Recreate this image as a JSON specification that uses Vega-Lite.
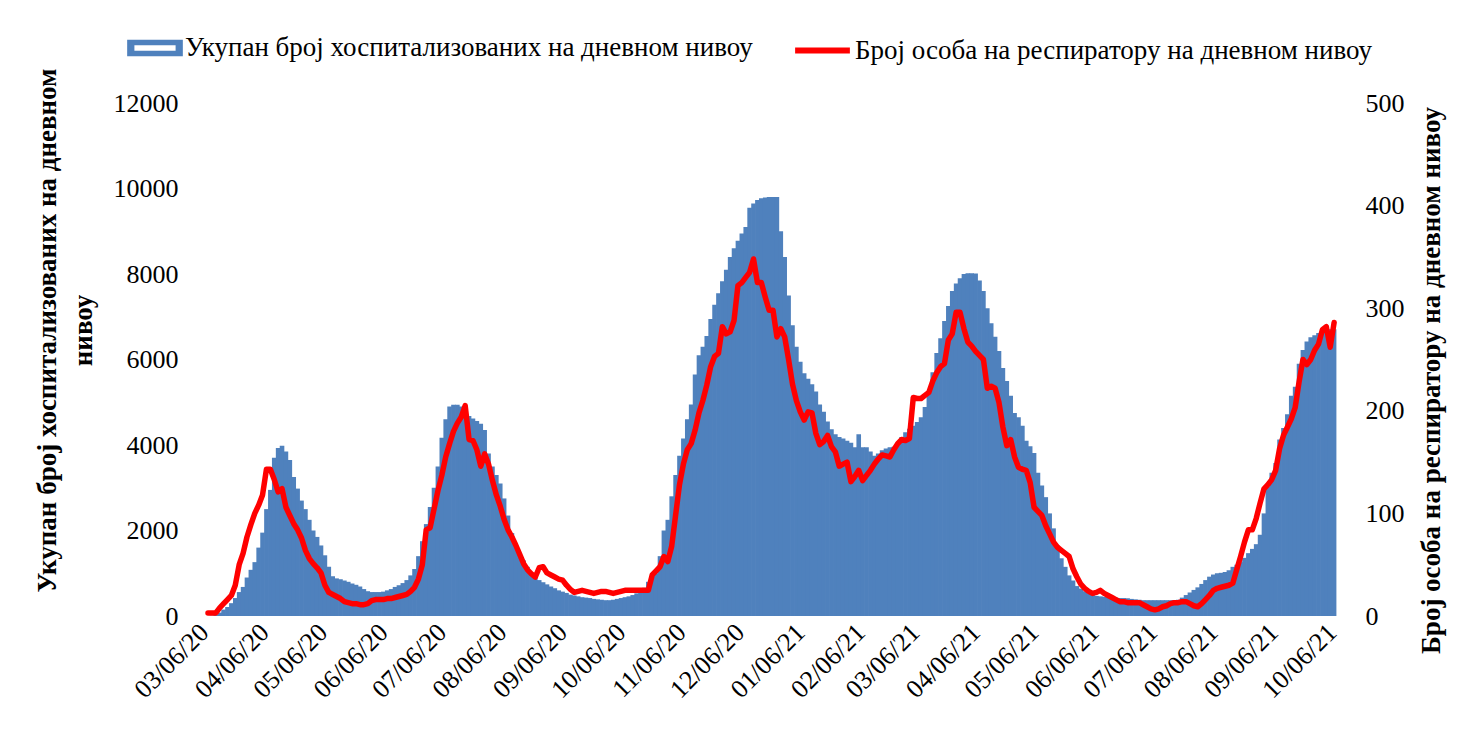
{
  "$schema": "https://vega.github.io/schema/vega-lite/v6.json",
  "autosize": "none",
  "width": 1140,
  "height": 513,
  "padding": {"left": 203, "top": 103, "right": 125, "bottom": 113},
  "background": "white",
  "config": {"view": {"stroke": null}, "font": "Liberation Serif"},
  "data": {"values": [
{"date":"2020-03-06","hosp":0,"resp":3},{"date":"2020-03-08","hosp":10,"resp":3},{"date":"2020-03-10","hosp":25,"resp":3},{"date":"2020-03-12","hosp":80,"resp":8},{"date":"2020-03-14","hosp":150,"resp":12},{"date":"2020-03-16","hosp":210,"resp":16},{"date":"2020-03-18","hosp":300,"resp":20},{"date":"2020-03-20","hosp":420,"resp":30},{"date":"2020-03-22","hosp":560,"resp":50},{"date":"2020-03-24","hosp":680,"resp":61},{"date":"2020-03-26","hosp":900,"resp":77},{"date":"2020-03-28","hosp":1080,"resp":89},{"date":"2020-03-30","hosp":1260,"resp":100},
{"date":"2020-04-01","hosp":1600,"resp":108},{"date":"2020-04-03","hosp":1950,"resp":118},{"date":"2020-04-05","hosp":2500,"resp":143},{"date":"2020-04-07","hosp":2950,"resp":143},{"date":"2020-04-09","hosp":3700,"resp":133},{"date":"2020-04-11","hosp":3930,"resp":121},{"date":"2020-04-13","hosp":3980,"resp":124},{"date":"2020-04-15","hosp":3850,"resp":106},{"date":"2020-04-17","hosp":3650,"resp":98},{"date":"2020-04-19","hosp":3250,"resp":90},{"date":"2020-04-21","hosp":2980,"resp":84},{"date":"2020-04-23","hosp":2700,"resp":76},{"date":"2020-04-25","hosp":2500,"resp":64},{"date":"2020-04-27","hosp":2250,"resp":56},{"date":"2020-04-29","hosp":2000,"resp":51},
{"date":"2020-05-01","hosp":1850,"resp":47},{"date":"2020-05-03","hosp":1650,"resp":42},{"date":"2020-05-05","hosp":1420,"resp":30},{"date":"2020-05-07","hosp":1150,"resp":23},{"date":"2020-05-09","hosp":930,"resp":21},{"date":"2020-05-11","hosp":880,"resp":19},{"date":"2020-05-13","hosp":860,"resp":17},{"date":"2020-05-15","hosp":830,"resp":14},{"date":"2020-05-17","hosp":800,"resp":13},{"date":"2020-05-19","hosp":760,"resp":12},{"date":"2020-05-21","hosp":730,"resp":12},{"date":"2020-05-23","hosp":690,"resp":11},{"date":"2020-05-25","hosp":630,"resp":11},{"date":"2020-05-27","hosp":580,"resp":12},{"date":"2020-05-29","hosp":560,"resp":15},{"date":"2020-05-31","hosp":560,"resp":16},
{"date":"2020-06-02","hosp":560,"resp":16},{"date":"2020-06-04","hosp":570,"resp":16},{"date":"2020-06-06","hosp":600,"resp":17},{"date":"2020-06-08","hosp":630,"resp":17},{"date":"2020-06-10","hosp":680,"resp":18},{"date":"2020-06-12","hosp":720,"resp":19},{"date":"2020-06-14","hosp":770,"resp":20},{"date":"2020-06-16","hosp":840,"resp":21},{"date":"2020-06-18","hosp":950,"resp":24},{"date":"2020-06-20","hosp":1100,"resp":28},{"date":"2020-06-22","hosp":1400,"resp":36},{"date":"2020-06-24","hosp":1750,"resp":50},{"date":"2020-06-26","hosp":2150,"resp":84},{"date":"2020-06-28","hosp":2550,"resp":86},{"date":"2020-06-30","hosp":3000,"resp":104},
{"date":"2020-07-02","hosp":3500,"resp":122},{"date":"2020-07-04","hosp":4170,"resp":137},{"date":"2020-07-06","hosp":4600,"resp":155},{"date":"2020-07-08","hosp":4900,"resp":168},{"date":"2020-07-10","hosp":4940,"resp":180},{"date":"2020-07-12","hosp":4940,"resp":188},{"date":"2020-07-14","hosp":4900,"resp":194},{"date":"2020-07-16","hosp":4800,"resp":205},{"date":"2020-07-18","hosp":4680,"resp":172},{"date":"2020-07-20","hosp":4620,"resp":171},{"date":"2020-07-22","hosp":4560,"resp":162},{"date":"2020-07-24","hosp":4500,"resp":146},{"date":"2020-07-26","hosp":4350,"resp":158},{"date":"2020-07-28","hosp":3800,"resp":148},{"date":"2020-07-30","hosp":3500,"resp":132},
{"date":"2020-08-01","hosp":3300,"resp":118},{"date":"2020-08-03","hosp":3100,"resp":107},{"date":"2020-08-05","hosp":2750,"resp":94},{"date":"2020-08-07","hosp":2350,"resp":84},{"date":"2020-08-09","hosp":1940,"resp":77},{"date":"2020-08-11","hosp":1650,"resp":69},{"date":"2020-08-13","hosp":1450,"resp":60},{"date":"2020-08-15","hosp":1300,"resp":51},{"date":"2020-08-17","hosp":1150,"resp":45},{"date":"2020-08-19","hosp":1000,"resp":41},{"date":"2020-08-21","hosp":900,"resp":38},{"date":"2020-08-23","hosp":840,"resp":47},{"date":"2020-08-25","hosp":790,"resp":48},{"date":"2020-08-27","hosp":740,"resp":42},{"date":"2020-08-29","hosp":690,"resp":40},{"date":"2020-08-31","hosp":650,"resp":38},
{"date":"2020-09-02","hosp":600,"resp":36},{"date":"2020-09-04","hosp":570,"resp":35},{"date":"2020-09-06","hosp":540,"resp":30},{"date":"2020-09-08","hosp":500,"resp":26},{"date":"2020-09-10","hosp":480,"resp":23},{"date":"2020-09-12","hosp":460,"resp":24},{"date":"2020-09-14","hosp":440,"resp":25},{"date":"2020-09-16","hosp":430,"resp":24},{"date":"2020-09-18","hosp":420,"resp":23},{"date":"2020-09-20","hosp":400,"resp":22},{"date":"2020-09-22","hosp":390,"resp":23},{"date":"2020-09-24","hosp":380,"resp":24},{"date":"2020-09-26","hosp":370,"resp":24},{"date":"2020-09-28","hosp":370,"resp":23},{"date":"2020-09-30","hosp":380,"resp":22},
{"date":"2020-10-02","hosp":400,"resp":23},{"date":"2020-10-04","hosp":420,"resp":24},{"date":"2020-10-06","hosp":440,"resp":25},{"date":"2020-10-08","hosp":460,"resp":25},{"date":"2020-10-10","hosp":490,"resp":25},{"date":"2020-10-12","hosp":530,"resp":25},{"date":"2020-10-14","hosp":580,"resp":25},{"date":"2020-10-16","hosp":660,"resp":25},{"date":"2020-10-18","hosp":800,"resp":25},{"date":"2020-10-20","hosp":950,"resp":40},{"date":"2020-10-22","hosp":1000,"resp":44},{"date":"2020-10-24","hosp":1400,"resp":48},{"date":"2020-10-26","hosp":2000,"resp":58},{"date":"2020-10-28","hosp":2250,"resp":53},{"date":"2020-10-30","hosp":2800,"resp":68},
{"date":"2020-11-01","hosp":3300,"resp":98},{"date":"2020-11-03","hosp":3750,"resp":128},{"date":"2020-11-05","hosp":4150,"resp":148},{"date":"2020-11-07","hosp":4600,"resp":162},{"date":"2020-11-09","hosp":4950,"resp":168},{"date":"2020-11-11","hosp":5650,"resp":181},{"date":"2020-11-13","hosp":6100,"resp":198},{"date":"2020-11-15","hosp":6300,"resp":210},{"date":"2020-11-17","hosp":6550,"resp":225},{"date":"2020-11-19","hosp":6950,"resp":243},{"date":"2020-11-21","hosp":7280,"resp":253},{"date":"2020-11-23","hosp":7550,"resp":256},{"date":"2020-11-25","hosp":7830,"resp":282},{"date":"2020-11-27","hosp":8100,"resp":275},{"date":"2020-11-29","hosp":8400,"resp":277},
{"date":"2020-12-01","hosp":8600,"resp":288},{"date":"2020-12-03","hosp":8780,"resp":322},{"date":"2020-12-05","hosp":8950,"resp":325},{"date":"2020-12-07","hosp":9100,"resp":330},{"date":"2020-12-09","hosp":9550,"resp":335},{"date":"2020-12-11","hosp":9650,"resp":348},{"date":"2020-12-13","hosp":9730,"resp":325},{"date":"2020-12-15","hosp":9770,"resp":325},{"date":"2020-12-17","hosp":9790,"resp":311},{"date":"2020-12-19","hosp":9800,"resp":298},{"date":"2020-12-21","hosp":9800,"resp":298},{"date":"2020-12-23","hosp":9800,"resp":272},{"date":"2020-12-25","hosp":9000,"resp":280},{"date":"2020-12-27","hosp":8400,"resp":272},{"date":"2020-12-29","hosp":7500,"resp":250},{"date":"2020-12-31","hosp":6800,"resp":226},
{"date":"2021-01-02","hosp":6300,"resp":210},{"date":"2021-01-04","hosp":5950,"resp":199},{"date":"2021-01-06","hosp":5680,"resp":191},{"date":"2021-01-08","hosp":5550,"resp":199},{"date":"2021-01-10","hosp":5420,"resp":198},{"date":"2021-01-12","hosp":5250,"resp":178},{"date":"2021-01-14","hosp":4950,"resp":167},{"date":"2021-01-16","hosp":4780,"resp":170},{"date":"2021-01-18","hosp":4550,"resp":176},{"date":"2021-01-20","hosp":4370,"resp":165},{"date":"2021-01-22","hosp":4250,"resp":160},{"date":"2021-01-24","hosp":4190,"resp":146},{"date":"2021-01-26","hosp":4150,"resp":148},{"date":"2021-01-28","hosp":4100,"resp":150},{"date":"2021-01-30","hosp":4050,"resp":131},
{"date":"2021-02-01","hosp":3950,"resp":136},{"date":"2021-02-03","hosp":4250,"resp":142},{"date":"2021-02-05","hosp":3950,"resp":132},{"date":"2021-02-07","hosp":3950,"resp":137},{"date":"2021-02-09","hosp":3850,"resp":142},{"date":"2021-02-11","hosp":3750,"resp":148},{"date":"2021-02-13","hosp":3800,"resp":153},{"date":"2021-02-15","hosp":3880,"resp":157},{"date":"2021-02-17","hosp":3920,"resp":156},{"date":"2021-02-19","hosp":3950,"resp":155},{"date":"2021-02-21","hosp":3960,"resp":162},{"date":"2021-02-23","hosp":4050,"resp":168},{"date":"2021-02-25","hosp":4190,"resp":172},{"date":"2021-02-27","hosp":4300,"resp":171},
{"date":"2021-03-01","hosp":4380,"resp":173},{"date":"2021-03-03","hosp":4450,"resp":213},{"date":"2021-03-05","hosp":4540,"resp":212},{"date":"2021-03-07","hosp":4650,"resp":212},{"date":"2021-03-09","hosp":4890,"resp":215},{"date":"2021-03-11","hosp":5200,"resp":218},{"date":"2021-03-13","hosp":5700,"resp":229},{"date":"2021-03-15","hosp":6150,"resp":237},{"date":"2021-03-17","hosp":6500,"resp":243},{"date":"2021-03-19","hosp":6900,"resp":246},{"date":"2021-03-21","hosp":7250,"resp":269},{"date":"2021-03-23","hosp":7600,"resp":275},{"date":"2021-03-25","hosp":7780,"resp":296},{"date":"2021-03-27","hosp":7900,"resp":296},{"date":"2021-03-29","hosp":8000,"resp":280},{"date":"2021-03-31","hosp":8020,"resp":267},
{"date":"2021-04-02","hosp":8020,"resp":263},{"date":"2021-04-04","hosp":8010,"resp":258},{"date":"2021-04-06","hosp":7850,"resp":254},{"date":"2021-04-08","hosp":7600,"resp":250},{"date":"2021-04-10","hosp":7200,"resp":222},{"date":"2021-04-12","hosp":6850,"resp":224},{"date":"2021-04-14","hosp":6530,"resp":222},{"date":"2021-04-16","hosp":6200,"resp":208},{"date":"2021-04-18","hosp":5800,"resp":184},{"date":"2021-04-20","hosp":5500,"resp":166},{"date":"2021-04-22","hosp":5150,"resp":172},{"date":"2021-04-24","hosp":4750,"resp":155},{"date":"2021-04-26","hosp":4650,"resp":145},{"date":"2021-04-28","hosp":4450,"resp":143},{"date":"2021-04-30","hosp":4100,"resp":142},
{"date":"2021-05-02","hosp":3970,"resp":130},{"date":"2021-05-04","hosp":3810,"resp":106},{"date":"2021-05-06","hosp":3350,"resp":102},{"date":"2021-05-08","hosp":3050,"resp":98},{"date":"2021-05-10","hosp":2780,"resp":88},{"date":"2021-05-12","hosp":2400,"resp":80},{"date":"2021-05-14","hosp":2050,"resp":72},{"date":"2021-05-16","hosp":1650,"resp":67},{"date":"2021-05-18","hosp":1350,"resp":64},{"date":"2021-05-20","hosp":1150,"resp":61},{"date":"2021-05-22","hosp":950,"resp":58},{"date":"2021-05-24","hosp":830,"resp":46},{"date":"2021-05-26","hosp":700,"resp":38},{"date":"2021-05-28","hosp":640,"resp":31},{"date":"2021-05-30","hosp":580,"resp":27},
{"date":"2021-06-01","hosp":530,"resp":24},{"date":"2021-06-03","hosp":500,"resp":22},{"date":"2021-06-05","hosp":470,"resp":23},{"date":"2021-06-07","hosp":460,"resp":25},{"date":"2021-06-09","hosp":450,"resp":22},{"date":"2021-06-11","hosp":440,"resp":20},{"date":"2021-06-13","hosp":430,"resp":18},{"date":"2021-06-15","hosp":430,"resp":16},{"date":"2021-06-17","hosp":420,"resp":14},{"date":"2021-06-19","hosp":420,"resp":14},{"date":"2021-06-21","hosp":415,"resp":13},{"date":"2021-06-23","hosp":400,"resp":13},{"date":"2021-06-25","hosp":390,"resp":13},{"date":"2021-06-27","hosp":380,"resp":13},{"date":"2021-06-29","hosp":370,"resp":11},
{"date":"2021-07-01","hosp":370,"resp":9},{"date":"2021-07-03","hosp":370,"resp":7},{"date":"2021-07-05","hosp":370,"resp":6},{"date":"2021-07-07","hosp":370,"resp":7},{"date":"2021-07-09","hosp":370,"resp":9},{"date":"2021-07-11","hosp":370,"resp":10},{"date":"2021-07-13","hosp":370,"resp":12},{"date":"2021-07-15","hosp":370,"resp":13},{"date":"2021-07-17","hosp":380,"resp":13},{"date":"2021-07-19","hosp":430,"resp":14},{"date":"2021-07-21","hosp":490,"resp":14},{"date":"2021-07-23","hosp":550,"resp":12},{"date":"2021-07-25","hosp":610,"resp":10},{"date":"2021-07-27","hosp":670,"resp":9},{"date":"2021-07-29","hosp":750,"resp":12},{"date":"2021-07-31","hosp":840,"resp":16},
{"date":"2021-08-02","hosp":920,"resp":20},{"date":"2021-08-04","hosp":970,"resp":25},{"date":"2021-08-06","hosp":1000,"resp":27},{"date":"2021-08-08","hosp":1010,"resp":28},{"date":"2021-08-10","hosp":1030,"resp":29},{"date":"2021-08-12","hosp":1070,"resp":30},{"date":"2021-08-14","hosp":1150,"resp":32},{"date":"2021-08-16","hosp":1200,"resp":45},{"date":"2021-08-18","hosp":1260,"resp":58},{"date":"2021-08-20","hosp":1360,"resp":72},{"date":"2021-08-22","hosp":1470,"resp":84},{"date":"2021-08-24","hosp":1570,"resp":84},{"date":"2021-08-26","hosp":1680,"resp":95},{"date":"2021-08-28","hosp":1900,"resp":110},{"date":"2021-08-30","hosp":2400,"resp":124},
{"date":"2021-09-01","hosp":3020,"resp":128},{"date":"2021-09-03","hosp":3350,"resp":133},{"date":"2021-09-05","hosp":3580,"resp":142},{"date":"2021-09-07","hosp":4130,"resp":163},{"date":"2021-09-09","hosp":4400,"resp":176},{"date":"2021-09-11","hosp":4720,"resp":184},{"date":"2021-09-13","hosp":5150,"resp":192},{"date":"2021-09-15","hosp":5360,"resp":203},{"date":"2021-09-17","hosp":5900,"resp":228},{"date":"2021-09-19","hosp":6220,"resp":250},{"date":"2021-09-21","hosp":6420,"resp":245},{"date":"2021-09-23","hosp":6520,"resp":250},{"date":"2021-09-25","hosp":6570,"resp":259},{"date":"2021-09-27","hosp":6620,"resp":265},{"date":"2021-09-29","hosp":6650,"resp":279},
{"date":"2021-10-01","hosp":6700,"resp":282},{"date":"2021-10-03","hosp":6710,"resp":262},{"date":"2021-10-05","hosp":6710,"resp":286}
  ]},
  "encoding": {
    "x": {
      "field": "date", "type": "temporal",
      "scale": {"type": "utc", "domain": [{"year": 2020, "month": 3, "date": 6, "utc": true}, {"year": 2021, "month": 10, "date": 7, "utc": true}]},
      "axis": {
        "title": null, "grid": false, "domain": false, "ticks": false, "tickSize": 0,
        "labelExpr": "utcFormat(datum.value, '%m/%d/%y')",
        "labelAngle": -45, "labelAlign": "right", "labelBaseline": "middle", "labelPadding": 12, "labelOffset": -4,
        "labelFont": "Liberation Serif", "labelFontSize": 26, "labelColor": "#000000", "labelOverlap": false, "labelFlush": false,
        "values": [
          {"year": 2020, "month": 3, "date": 6, "utc": true}, {"year": 2020, "month": 4, "date": 6, "utc": true}, {"year": 2020, "month": 5, "date": 6, "utc": true}, {"year": 2020, "month": 6, "date": 6, "utc": true}, {"year": 2020, "month": 7, "date": 6, "utc": true}, {"year": 2020, "month": 8, "date": 6, "utc": true}, {"year": 2020, "month": 9, "date": 6, "utc": true}, {"year": 2020, "month": 10, "date": 6, "utc": true}, {"year": 2020, "month": 11, "date": 6, "utc": true}, {"year": 2020, "month": 12, "date": 6, "utc": true},
          {"year": 2021, "month": 1, "date": 6, "utc": true}, {"year": 2021, "month": 2, "date": 6, "utc": true}, {"year": 2021, "month": 3, "date": 6, "utc": true}, {"year": 2021, "month": 4, "date": 6, "utc": true}, {"year": 2021, "month": 5, "date": 6, "utc": true}, {"year": 2021, "month": 6, "date": 6, "utc": true}, {"year": 2021, "month": 7, "date": 6, "utc": true}, {"year": 2021, "month": 8, "date": 6, "utc": true}, {"year": 2021, "month": 9, "date": 6, "utc": true}, {"year": 2021, "month": 10, "date": 6, "utc": true}
        ]
      }
    }
  },
  "layer": [
    {
      "mark": {"type": "bar", "width": 4.6, "color": "#4F81BD", "stroke": null},
      "encoding": {
        "y": {
          "field": "hosp", "type": "quantitative",
          "scale": {"domain": [0, 12000], "nice": false},
          "axis": {
            "orient": "left", "values": [0, 2000, 4000, 6000, 8000, 10000, 12000], "format": "d",
            "grid": false, "domain": false, "ticks": false, "tickSize": 0, "labelPadding": 25,
            "labelFont": "Liberation Serif", "labelFontSize": 26, "labelColor": "#000000",
            "title": ["Укупан број хоспитализованих на дневном", "нивоу"],
            "titleFont": "Liberation Serif", "titleFontSize": 27, "titleFontWeight": "bold", "titleColor": "#000000",
            "titleAngle": -90, "titleAlign": "center", "titleBaseline": "top", "titleLineHeight": 36,
            "titleX": -169, "titleY": 227
          }
        },
        "opacity": {
          "datum": "Укупан број хоспитализованих на дневном нивоу", "type": "nominal",
          "scale": {"range": [1]},
          "legend": {
            "orient": "none", "legendX": -76, "legendY": -83, "title": null, "padding": 0,
            "symbolType": "M-1,-0.3H1V0.3H-1Z M-0.74,-0.1V0.1H0.74V-0.1Z", "symbolSize": 3100, "symbolStrokeWidth": 0,
            "symbolFillColor": "#4F81BD", "symbolOpacity": 1,
            "labelFont": "Liberation Serif", "labelFontSize": 27, "labelColor": "#000000", "labelLimit": 0, "labelOffset": 2
          }
        }
      }
    },
    {
      "mark": {"type": "line", "strokeWidth": 5.5, "strokeJoin": "round", "strokeCap": "round"},
      "encoding": {
        "y": {
          "field": "resp", "type": "quantitative",
          "scale": {"domain": [0, 500], "nice": false},
          "axis": {
            "orient": "right", "values": [0, 100, 200, 300, 400, 500], "format": "d",
            "grid": false, "domain": false, "ticks": false, "tickSize": 0, "labelPadding": 22,
            "labelFont": "Liberation Serif", "labelFontSize": 26, "labelColor": "#000000",
            "title": "Број особа на респиратору на дневном нивоу",
            "titleFont": "Liberation Serif", "titleFontSize": 27, "titleFontWeight": "bold", "titleColor": "#000000",
            "titleAngle": -90, "titleAlign": "center", "titleBaseline": "middle",
            "titleX": 88, "titleY": 277
          }
        },
        "stroke": {
          "datum": "Број особа на респиратору на дневном нивоу", "type": "nominal",
          "scale": {"range": ["#FF0000"]},
          "legend": {
            "orient": "none", "legendX": 589, "legendY": -83, "title": null, "padding": 0,
            "symbolType": "stroke", "symbolSize": 3000, "symbolStrokeWidth": 6,
            "labelFont": "Liberation Serif", "labelFontSize": 27, "labelColor": "#000000", "labelLimit": 0, "labelOffset": 2
          }
        }
      }
    }
  ],
  "resolve": {"scale": {"y": "independent"}, "axis": {"y": "independent"}}
}
